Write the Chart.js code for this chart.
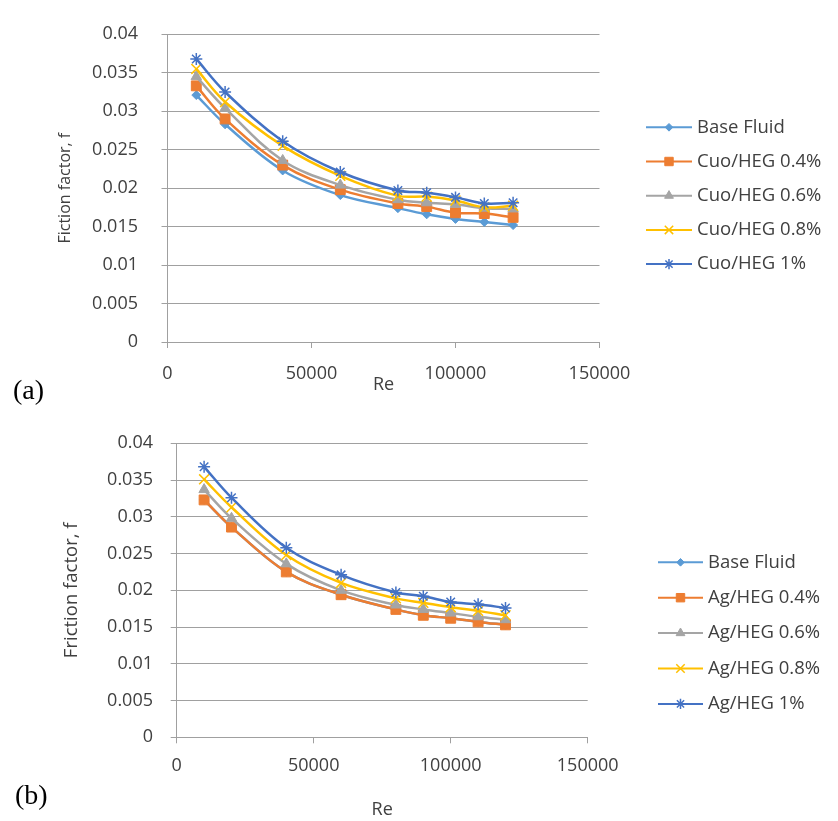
<!DOCTYPE html>
<html>
<head>
<meta charset="utf-8">
<script src="https://cdn.jsdelivr.net/npm/chart.js@4.4.1/dist/chart.umd.min.js"></script>
<style>
body { margin: 0; background: #fff; }
#wrap { position: relative; width: 838px; height: 821px; }
canvas { position: absolute; left: 0; }
.tag { position: absolute; font-family: "Liberation Serif", serif; font-size: 28px; line-height: 32px; color: #000; }
</style>
</head>
<body>
<div id="wrap">
  <canvas id="chartA" width="838" height="410" style="top:0"></canvas>
  <canvas id="chartB" width="838" height="411" style="top:410px"></canvas>
  <div class="tag" style="left:13px; top:374px">(a)</div>
  <div class="tag" style="left:15px; top:779px">(b)</div>
</div>
<script>
// Data
// --------------------------------------------
const re = [10000, 20000, 40000, 60000, 80000, 90000, 100000, 110000, 120000]

const namesA = ['Base Fluid', 'Cuo/HEG 0.4%', 'Cuo/HEG 0.6%', 'Cuo/HEG 0.8%', 'Cuo/HEG 1%']
const baseA = [0.0321, 0.0283, 0.0223, 0.0191, 0.0174, 0.0166, 0.0160, 0.0156, 0.0152]
const cuo04 = [0.0333, 0.0290, 0.0230, 0.0198, 0.0180, 0.0176, 0.0168, 0.0167, 0.0162]
const cuo06 = [0.0345, 0.0304, 0.0236, 0.0204, 0.0185, 0.0181, 0.0179, 0.0174, 0.0173]
const cuo08 = [0.0355, 0.0312, 0.0255, 0.0216, 0.0190, 0.0189, 0.0184, 0.0175, 0.0177]
const cuo10 = [0.0368, 0.0325, 0.0261, 0.0221, 0.0197, 0.0194, 0.0188, 0.0180, 0.0181]

const namesB = ['Base Fluid', 'Ag/HEG 0.4%', 'Ag/HEG 0.6%', 'Ag/HEG 0.8%', 'Ag/HEG 1%']
const baseB = [0.0323, 0.0286, 0.0225, 0.0194, 0.0174, 0.0166, 0.0162, 0.0157, 0.0153]
const ag04 = [0.0323, 0.0286, 0.0225, 0.0194, 0.0174, 0.0166, 0.0162, 0.0157, 0.0153]
const ag06 = [0.0337, 0.0298, 0.0236, 0.0200, 0.0180, 0.0174, 0.0169, 0.0164, 0.0160]
const ag08 = [0.0351, 0.0313, 0.0248, 0.0210, 0.0189, 0.0183, 0.0177, 0.0172, 0.0166]
const ag10 = [0.0368, 0.0326, 0.0258, 0.0221, 0.0197, 0.0192, 0.0184, 0.0181, 0.0176]

const xTickLabels = ['0', '50000', '100000', '150000']
const yTickLabels = ['0', '0.005', '0.01', '0.015', '0.02', '0.025', '0.03', '0.035', '0.04']

// Styles
// --------------------------------------------
const colors = ['#5B9BD5', '#ED7D31', '#A5A5A5', '#FFC000', '#4472C4']
const markers = ['rectRot', 'rect', 'triangle', 'crossRot', 'star']
const radii = [4.5, 7, 6, 7, 6]
const markerBorder = [1, 1, 1, 1.5, 1.5]
const gridColor = '#a0a0a0'
const textColor = '#404040'
const fontFamily = '"Open Sans", sans-serif'

Chart.defaults.font.family = fontFamily
Chart.defaults.color = textColor


// Legend at the right: line + marker + label
// --------------------------------------------
const sideLegend = {
    id: 'sideLegend',
    afterDraw(chart, args, opts) {
        const ctx = chart.ctx
        chart.data.datasets.forEach((ds, i) => {
            const y = opts.y0 + i * opts.step
            ctx.save()
            ctx.strokeStyle = ds.borderColor
            ctx.lineWidth = 2
            ctx.beginPath()
            ctx.moveTo(opts.x0, y)
            ctx.lineTo(opts.x1, y)
            ctx.stroke()
            ctx.fillStyle = ds.pointBackgroundColor
            ctx.strokeStyle = ds.pointBorderColor
            ctx.lineWidth = ds.pointBorderWidth
            Chart.helpers.drawPoint(ctx, {
                pointStyle: ds.pointStyle,
                radius: ds.pointRadius * 0.85,
                borderWidth: ds.pointBorderWidth,
                rotation: 0
            }, (opts.x0 + opts.x1) / 2, y)
            ctx.fillStyle = textColor
            ctx.font = opts.fontSize + 'px ' + fontFamily
            ctx.textBaseline = 'middle'
            ctx.textAlign = 'left'
            ctx.fillText(ds.label, opts.tx, y)
            ctx.restore()
        })
    }
}


// Builds one chart
// --------------------------------------------
function buildChart(id, names, series, g) {
    const datasets = series.map((s, i) => ({
        label: names[i],
        data: re.map((x, j) => ({ x: x, y: s[j] })),
        borderColor: colors[i],
        backgroundColor: colors[i],
        borderWidth: 2.5,
        tension: 0.35,
        pointStyle: markers[i],
        pointRadius: radii[i],
        pointBorderWidth: markerBorder[i],
        pointBorderColor: colors[i],
        pointBackgroundColor: colors[i],
        order: series.length - i
    }))

    return new Chart(document.getElementById(id), {
        type: 'line',
        data: { datasets: datasets },
        options: {
            responsive: false,
            animation: false,
            layout: { padding: { top: g.top, right: g.right, left: 0, bottom: 0 } },
            plugins: {
                legend: { display: false },
                tooltip: { enabled: false },
                sideLegend: g.legend
            },
            scales: {
                x: {
                    type: 'linear',
                    min: 0,
                    max: 150000,
                    ticks: {
                        stepSize: 50000,
                        maxRotation: 0,
                        padding: g.xTickPad,
                        font: { size: 18 },
                        callback: (v, i) => xTickLabels[i]
                    },
                    grid: { drawOnChartArea: false, tickLength: 6, color: gridColor },
                    border: { color: gridColor },
                    title: {
                        display: true,
                        text: 'Re',
                        font: { size: 18 },
                        padding: { top: 0, bottom: g.xTitlePad }
                    },
                    afterFit: s => { s.height = g.xHeight }
                },
                y: {
                    min: 0,
                    max: 0.04,
                    ticks: {
                        stepSize: 0.005,
                        padding: g.yTickPad,
                        font: { size: 18 },
                        callback: (v, i) => yTickLabels[i]
                    },
                    grid: { tickLength: 6, color: gridColor },
                    border: { color: gridColor },
                    title: {
                        display: true,
                        text: g.yTitle,
                        font: { size: g.yTitleFont },
                        padding: { top: g.yTitlePad, bottom: 0 }
                    },
                    afterFit: s => { s.width = g.yWidth }
                }
            }
        },
        plugins: [sideLegend]
    })
}


// Main program flow
// --------------------------------------------
buildChart('chartA', namesA, [baseA, cuo04, cuo06, cuo08, cuo10], {
    top: 17, right: 238.5, yWidth: 167.5, xHeight: 68,
    yTitle: 'Fiction factor, f', yTitleFont: 16, yTitlePad: 55.4,
    yTickPad: 23.5, xTickPad: 15, xTitlePad: 14.2,
    legend: { y0: 127.3, step: 34.2, x0: 646, x1: 692, tx: 697, fontSize: 18.5 }
})

buildChart('chartB', namesB, [baseB, ag04, ag06, ag08, ag10], {
    top: 33.3, right: 250.3, yWidth: 176.7, xHeight: 83.7,
    yTitle: 'Friction factor, f', yTitleFont: 18.5, yTitlePad: 60.9,
    yTickPad: 17.7, xTickPad: 12, xTitlePad: 0.2,
    legend: { y0: 152.3, step: 35.4, x0: 658, x1: 703, tx: 708, fontSize: 18.5 }
})
</script>
</body>
</html>
